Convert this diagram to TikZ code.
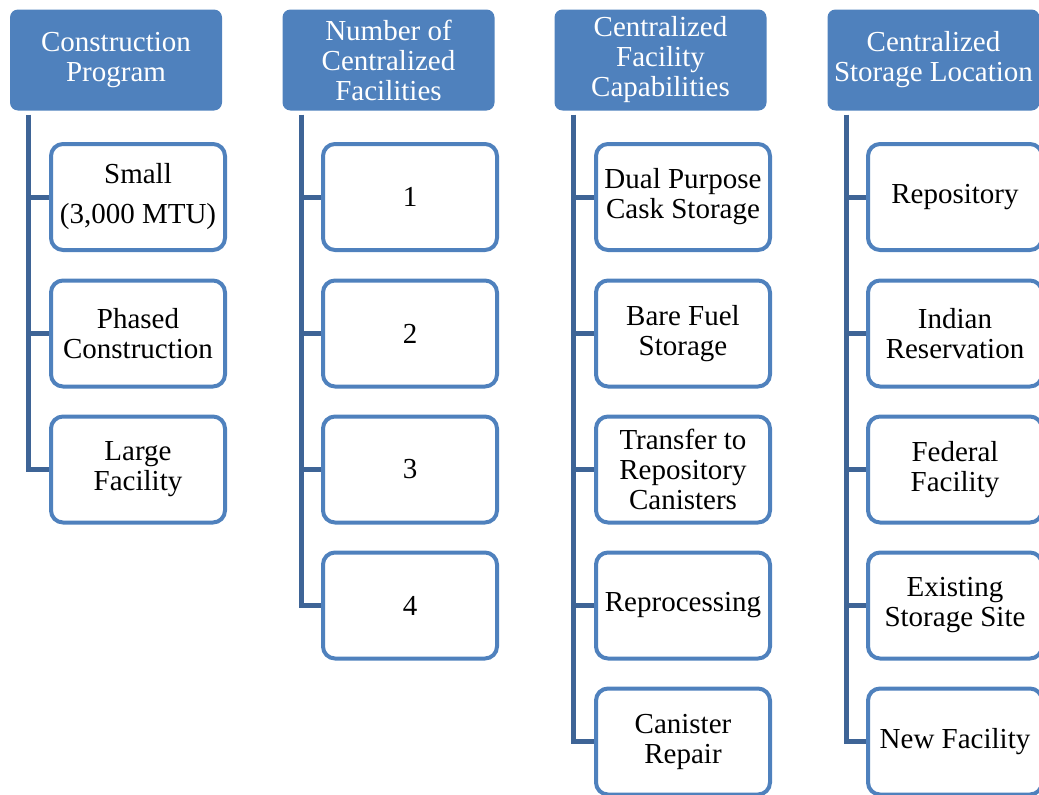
\documentclass[tikz,border=0pt]{standalone}
\usepackage{xcolor}
\usepackage{fontspec}
\setmainfont{Liberation Serif}
\usepackage{tikz}
\usetikzlibrary{calc,backgrounds}

\definecolor{hdrblue}{RGB}{79,129,189}
\definecolor{linkblue}{RGB}{62,100,150}

\begin{document}
\begin{tikzpicture}[x=1pt,y=-1pt,
    hdr/.style={rectangle, rounded corners=8pt, fill=hdrblue, text=white,
      minimum width=212pt, minimum height=101pt, inner sep=1pt, align=center,
      font=\fontsize{29}{30}\selectfont},
    item/.style={rectangle, rounded corners=12pt, draw=hdrblue, line width=4pt,
      fill=white, minimum width=174pt, minimum height=106pt, inner sep=1pt,
      align=center, font=\fontsize{29}{30}\selectfont},
    link/.style={draw=linkblue, line width=5pt}]
      \useasboundingbox (0,0) rectangle (1039,795);

      % headers
      \node[hdr] (h1) at (116,60)   {Construction\\Program};
      \node[hdr] (h2) at (388.5,60) {Number of\\Centralized\\Facilities};
      \node[hdr] (h3) at (660.5,60) {Centralized\\Facility\\Capabilities};
      \node[hdr] (h4) at (933.5,60) {Centralized\\Storage Location};

      % column 1
      \node[item] (a1) at (138,197)   {Small\\[10pt](3,000 MTU)};
      \node[item] (a2) at (138,333.5) {Phased\\Construction};
      \node[item] (a3) at (138,469.5) {Large\\Facility};

      % column 2
      \node[item] (b1) at (410,197)   {1};
      \node[item] (b2) at (410,333.5) {2};
      \node[item] (b3) at (410,469.5) {3};
      \node[item] (b4) at (410,605.5) {4};

      % column 3
      \node[item] (c1) at (683,197)   {Dual Purpose\\Cask Storage};
      \node[item] (c2) at (683,333.5) {Bare Fuel\\Storage};
      \node[item] (c3) at (683,469.5) {Transfer to\\Repository\\Canisters};
      \node[item] (c4) at (683,605.5) {Reprocessing};
      \node[item] (c5) at (683,741.5) {Canister\\Repair};

      % column 4
      \node[item] (d1) at (955,197)   {Repository};
      \node[item] (d2) at (955,333.5) {Indian\\Reservation};
      \node[item] (d3) at (955,469.5) {Federal\\Facility};
      \node[item] (d4) at (955,605.5) {Existing\\Storage Site};
      \node[item] (d5) at (955,741.5) {New Facility};

      \coordinate (t1) at ($(h1.south west)+(19,4)$);
      \coordinate (t2) at ($(h2.south west)+(19,4)$);
      \coordinate (t3) at ($(h3.south west)+(19,4)$);
      \coordinate (t4) at ($(h4.south west)+(19,4)$);

      \begin{scope}[on background layer]
        \draw[link] (t1) |- (a3.west);
        \draw[link] (t2) |- (b4.west);
        \draw[link] (t3) |- (c5.west);
        \draw[link] (t4) |- (d5.west);
        \foreach \n in {a1,a2}       \draw[link] (t1 |- \n.west) -- (\n.west);
        \foreach \n in {b1,b2,b3}    \draw[link] (t2 |- \n.west) -- (\n.west);
        \foreach \n in {c1,c2,c3,c4} \draw[link] (t3 |- \n.west) -- (\n.west);
        \foreach \n in {d1,d2,d3,d4} \draw[link] (t4 |- \n.west) -- (\n.west);
      \end{scope}
    \end{tikzpicture}
\end{document}
